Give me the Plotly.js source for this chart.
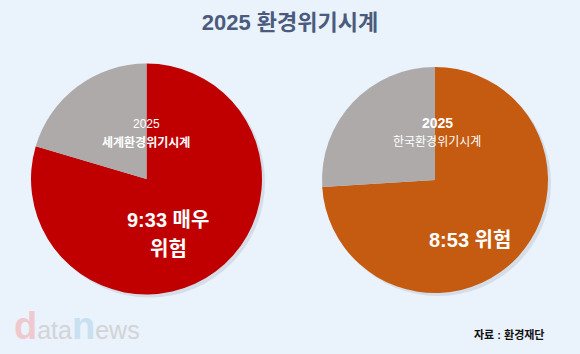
<!DOCTYPE html>
<html><head><meta charset="utf-8">
<script src="https://cdn.plot.ly/plotly-3.0.1.min.js"></script>
<style>html,body{margin:0;padding:0;background:#EAF2FB;}#c{width:580px;height:354px;}</style>
</head><body><div id="c"></div>
<script>
// 12-hour clock: hours elapsed vs. remaining
const labels = ["경과", "잔여"];
const worldHours = [9 + 33/60, 12 - (9 + 33/60)];
const koreaHours = [8 + 53/60, 12 - (8 + 53/60)];
const worldColors = ["#C00000", "#AEAAAA"];
const koreaColors = ["#C55A11", "#AEAAAA"];
const worldLabel1 = "9:33 매우";
const worldLabel2 = "위험";
const koreaLabel = "8:53 위험";

const W = 580, H = 354;
function dom(cx, cy, r){ return {x:[(cx-r)/W,(cx+r)/W], y:[(H-cy-r)/H,(H-cy+r)/H]}; }

const base = {type:"pie", labels:labels, sort:false, direction:"clockwise", rotation:0,
  textinfo:"none", hoverinfo:"none", showlegend:false};
const font = "'Liberation Sans', Arial, 'Noto Sans CJK KR', sans-serif";

const traces = [
  Object.assign({}, base, {values:worldHours, marker:{colors:worldColors, line:{width:0}}, domain:dom(146.5,179,115.5)}),
  Object.assign({}, base, {values:koreaHours, marker:{colors:koreaColors, line:{width:0}}, domain:dom(435,180,113)})
];

const ann = (x,y,text,size,bold,color,xa) => ({xref:"paper",yref:"paper",x:x/W,y:1-y/H,text:bold?"<b>"+text+"</b>":text,
  showarrow:false,xanchor:xa||"center",yanchor:"middle",font:{family:font,size:size,color:color||"#FFFFFF"}});

const layout = {
  width:W, height:H, margin:{l:0,r:0,t:0,b:0},
  paper_bgcolor:"#EAF2FB", plot_bgcolor:"#EAF2FB",
  title:{text:"<b>2025 환경위기시계</b>", x:0.5, xanchor:"center", y:1-22/H, yanchor:"middle",
    font:{family:font, size:22, color:"#4A5B7D"}},
  shapes:[
    {type:"circle", xref:"paper", yref:"paper", layer:"below", x0:(146.5-115.5+3)/W, x1:(146.5+115.5+3)/W, y0:1-(179+115.5+3)/H, y1:1-(179-115.5+3)/H, fillcolor:"rgba(120,130,150,0.18)", line:{width:0}},
    {type:"circle", xref:"paper", yref:"paper", layer:"below", x0:(435-113+3)/W, x1:(435+113+3)/W, y0:1-(180+113+3)/H, y1:1-(180-113+3)/H, fillcolor:"rgba(120,130,150,0.18)", line:{width:0}}
  ],
  annotations:[
    ann(146,124,"2025",12,false),
    ann(146,142,"세계환경위기시계",12,true),
    ann(168,220,worldLabel1,20,true),
    ann(168,249,worldLabel2,20,true),
    ann(437,123,"2025",14,true),
    ann(437,142,"한국환경위기시계",12,false),
    ann(470,240,koreaLabel,20,true),
    ann(547,334,"자료 : 환경재단",11,true,"#111111","right"),
    {xref:"paper",yref:"paper",x:12/W,y:1-326/H,xanchor:"left",yanchor:"middle",showarrow:false,
     text:"<span style='font-size:38px;font-weight:bold;color:#EFC9CE'>d</span><span style='color:#D2D4D8'>ata</span><span style='font-size:38px;font-weight:bold;color:#C9DFF2'>n</span><span style='color:#D2D4D8'>ews</span>",
     font:{family:"'Liberation Sans', Arial, sans-serif", size:25, color:"#D2D4D8"}}
  ]
};
Plotly.newPlot("c", traces, layout, {staticPlot:true, displayModeBar:false});
</script></body></html>
